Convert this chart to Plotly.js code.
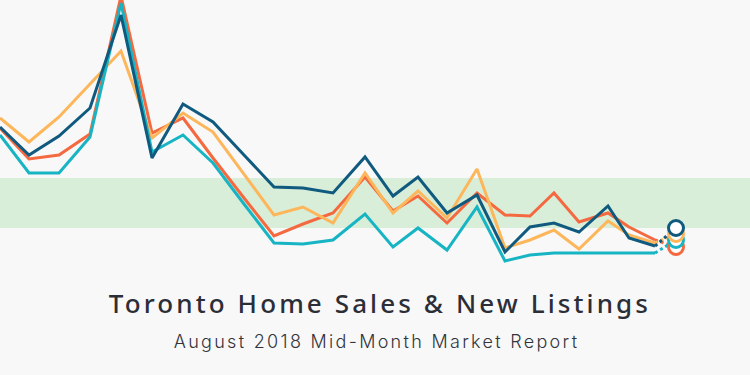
<!DOCTYPE html>
<html>
<head>
<meta charset="utf-8">
<script src="https://cdn.plot.ly/plotly-3.0.1.min.js"></script>
<style>
html,body{margin:0;padding:0;background:#f8f8f8;}
#chart{width:750px;height:375px;}
.annotation[data-index="0"] text{letter-spacing:3.1px;}
.annotation[data-index="1"] text{letter-spacing:2.3px;}
</style>
</head>
<body>
<div id="chart"></div>
<script>
// Period positions (horizontal time scale)
const periods = [0,29,59,90,121,152,183,213,244,274,303,333,365,393,418,447,477,505,530,554,579,608,629,655];
const projectedPeriod = 676;

// Series values (index units)
const yellowVals = [257,233,258,291,324,237,262,243,201,160,168,152,202,162,184,157,206,127,135,145,126,154,140,132];
const orangeVals = [247,216,220,241,379,242,257,217,177,139,151,162,198,164,179,152,182,160,159,182,153,162,148,135];
const tealVals   = [240,202,202,238,372,223,240,212,171,132,131,135,161,128,147,125,168,114,120,122,122,122,122,122];
const navyVals   = [248,220,239,267,360,217,271,253,220,188,187,182,218,179,198,162,180,123,148,152,143,169,137,129];
// Projected end values (circles)
const projectedVals = {yellow:141, orange:128, teal:135, navy:147};

// Balanced-market band
const bandRange = [147,197];

// Text
const titleText = "Toronto Home Sales &amp; New Listings";
const subtitleText = "August 2018 Mid-Month Market Report";

const colors = {yellow:"#fdb65a", orange:"#f4693f", teal:"#17b4c4", navy:"#0f5a7e"};

const order = [
  ["orange", orangeVals],
  ["yellow", yellowVals],
  ["teal", tealVals],
  ["navy", navyVals]
];

const traces = [];
order.forEach(([k, vals]) => {
  traces.push({
    x:[periods[periods.length-1], projectedPeriod],
    y:[vals[vals.length-1], projectedVals[k]],
    mode:"lines", line:{color:colors[k], width:3, dash:"dot"},
    hoverinfo:"skip", showlegend:false
  });
});
order.forEach(([k, vals]) => {
  traces.push({
    x:periods, y:vals, mode:"lines",
    line:{color:colors[k], width:3}, showlegend:false, hoverinfo:"skip"
  });
});
["orange","teal","yellow","navy"].forEach(k => {
  traces.push({
    x:[projectedPeriod], y:[projectedVals[k]], mode:"markers",
    marker:{size:15, color:"#ffffff", line:{color:colors[k], width:3}},
    showlegend:false, hoverinfo:"skip", cliponaxis:false
  });
});

const layout = {
  width:750, height:375,
  margin:{l:0,r:0,t:0,b:0},
  paper_bgcolor:"#f8f8f8", plot_bgcolor:"#f8f8f8",
  xaxis:{range:[0,750], visible:false, fixedrange:true},
  yaxis:{range:[0,375], visible:false, fixedrange:true},
  shapes:[{type:"rect", xref:"paper", x0:0, x1:1, yref:"y", y0:bandRange[0], y1:bandRange[1],
    fillcolor:"#d9eed9", line:{width:0}, layer:"below"}],
  annotations:[
    {text:titleText, xref:"paper", yref:"paper", x:0.506, y:(375-303)/375,
     xanchor:"center", yanchor:"middle", showarrow:false,
     font:{family:"Noto Sans, sans-serif", size:26, color:"#2c2e37", weight:500}},
    {text:subtitleText, xref:"paper", yref:"paper", x:0.502, y:(375-341)/375,
     xanchor:"center", yanchor:"middle", showarrow:false,
     font:{family:"Inter, sans-serif", size:18, color:"#33343c", weight:300}}
  ]
};

Plotly.newPlot("chart", traces, layout, {displayModeBar:false, staticPlot:true});
</script>
</body>
</html>
